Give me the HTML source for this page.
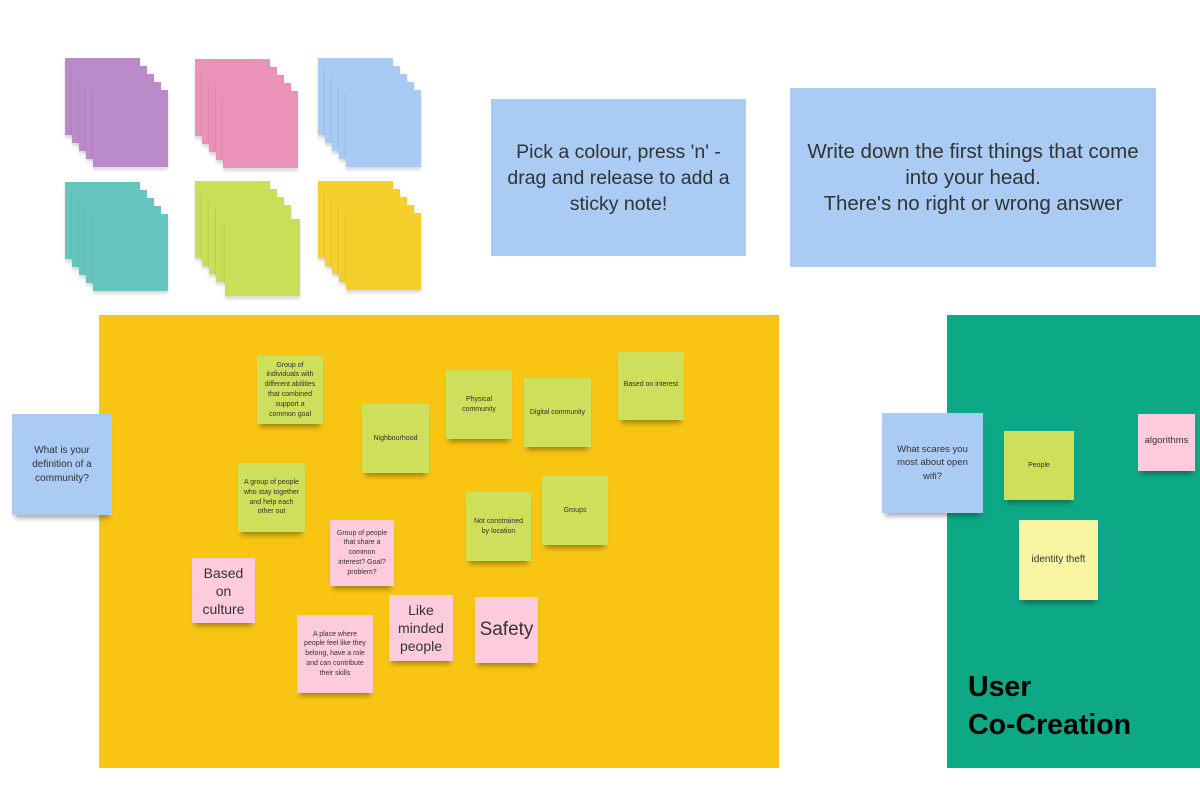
<!DOCTYPE html>
<html><head><meta charset="utf-8"><style>
body{margin:0;width:1200px;height:800px;background:#fff;position:relative;overflow:hidden;font-family:"Liberation Sans",sans-serif;}
.a{position:absolute;}
.n{position:absolute;display:flex;align-items:center;justify-content:center;text-align:center;color:#333;box-shadow:0 6px 5px -3px rgba(0,0,0,0.35);box-sizing:border-box;padding:3px 7px;line-height:1.4;}
.g{background:#cddf5b;font-size:7px;}
.p{background:#fdcbdc;}
.b{background:#a9cbf4;}
.s{position:absolute;width:75px;height:77px;box-shadow:0 3px 3px rgba(0,0,0,0.15);}
</style></head><body>
<div class="a" style="left:65px;top:58px">
<div class="s" style="left:0;top:0;background:#bb8ac8"></div><div class="s" style="left:7px;top:8px;background:#bb8ac8"></div><div class="s" style="left:14px;top:16px;background:#bb8ac8"></div><div class="s" style="left:21px;top:24px;background:#bb8ac8"></div><div class="s" style="left:28px;top:32px;background:#bb8ac8"></div></div>
<div class="a" style="left:195px;top:59px">
<div class="s" style="left:0;top:0;background:#ea93b9"></div><div class="s" style="left:7px;top:8px;background:#ea93b9"></div><div class="s" style="left:14px;top:16px;background:#ea93b9"></div><div class="s" style="left:21px;top:24px;background:#ea93b9"></div><div class="s" style="left:28px;top:32px;background:#ea93b9"></div></div>
<div class="a" style="left:318px;top:58px">
<div class="s" style="left:0;top:0;background:#a7cbf4"></div><div class="s" style="left:7px;top:8px;background:#a7cbf4"></div><div class="s" style="left:14px;top:16px;background:#a7cbf4"></div><div class="s" style="left:21px;top:24px;background:#a7cbf4"></div><div class="s" style="left:28px;top:32px;background:#a7cbf4"></div></div>
<div class="a" style="left:65px;top:182px">
<div class="s" style="left:0;top:0;background:#67c5bf"></div><div class="s" style="left:7px;top:8px;background:#67c5bf"></div><div class="s" style="left:14px;top:16px;background:#67c5bf"></div><div class="s" style="left:21px;top:24px;background:#67c5bf"></div><div class="s" style="left:28px;top:32px;background:#67c5bf"></div></div>
<div class="a" style="left:195px;top:181px">
<div class="s" style="left:0;top:0;background:#cade5a"></div><div class="s" style="left:7px;top:8px;background:#cade5a"></div><div class="s" style="left:14px;top:16px;background:#cade5a"></div><div class="s" style="left:21px;top:24px;background:#cade5a"></div><div class="s" style="left:30px;top:38px;background:#cade5a"></div></div>
<div class="a" style="left:318px;top:181px">
<div class="s" style="left:0;top:0;background:#f5cf2c"></div><div class="s" style="left:7px;top:8px;background:#f5cf2c"></div><div class="s" style="left:14px;top:16px;background:#f5cf2c"></div><div class="s" style="left:21px;top:24px;background:#f5cf2c"></div><div class="s" style="left:28px;top:32px;background:#f5cf2c"></div></div>

<div class="a" style="left:491px;top:99px;width:255px;height:157px;background:#a9cbf4;display:flex;align-items:center;justify-content:center;text-align:center;font-size:19.5px;line-height:26px;color:#333;">Pick a colour, press 'n' -<br>drag and release to add a<br>sticky note!</div>
<div class="a" style="left:790px;top:88px;width:366px;height:179px;background:#a9cbf4;display:flex;align-items:center;justify-content:center;text-align:center;font-size:20.5px;line-height:26px;color:#333;">Write down the first things that come<br>into your head.<br>There's no right or wrong answer</div>

<div class="a" style="left:99px;top:315px;width:680px;height:453px;background:#f8c512"></div>
<div class="a" style="left:947px;top:315px;width:253px;height:453px;background:#0da886"></div>
<div class="a" style="left:968px;top:668px;font-size:28.5px;font-weight:bold;line-height:38px;color:#000;">User<br>Co-Creation</div>

<div class="n b" style="left:12px;top:414px;width:100px;height:101px;font-size:10px;padding:3px 14px;">What is your definition of a community?</div>

<div class="n g" style="left:257px;top:356px;width:66px;height:68px;">Group of individuals with different abilities that combined support a common goal</div>
<div class="n g" style="left:362px;top:404px;width:67px;height:69px;">Nighbourhood</div>
<div class="n g" style="left:446px;top:370px;width:66px;height:69px;padding:3px 12px;">Physical community</div>
<div class="n g" style="left:524px;top:378px;width:67px;height:69px;padding:3px 0;white-space:nowrap;">Digital community</div>
<div class="n g" style="left:618px;top:352px;width:66px;height:68px;align-items:flex-start;padding:28px 0 0;white-space:nowrap;">Based on interest</div>
<div class="n g" style="left:238px;top:463px;width:67px;height:69px;padding:3px 5px;">A group of people who stay together and help each other out</div>
<div class="n p" style="left:330px;top:520px;width:64px;height:66px;font-size:7px;padding:3px 6px;">Group of people that share a common interest? Goal? problem?</div>
<div class="n g" style="left:466px;top:492px;width:65px;height:69px;padding:3px 5px;">Not constrained by location</div>
<div class="n g" style="left:542px;top:476px;width:66px;height:69px;">Groups</div>
<div class="n p" style="left:192px;top:558px;width:63px;height:65px;font-size:14px;line-height:18px;">Based<br>on<br>culture</div>
<div class="n p" style="left:297px;top:615px;width:76px;height:78px;font-size:7px;padding:3px 7px;">A place where people feel like they belong, have a role and can contribute their skills</div>
<div class="n p" style="left:389px;top:595px;width:64px;height:66px;font-size:14px;line-height:18px;">Like<br>minded<br>people</div>
<div class="n p" style="left:475px;top:597px;width:63px;height:66px;font-size:19px;">Safety</div>

<div class="n b" style="left:882px;top:413px;width:101px;height:100px;font-size:9.5px;padding:3px 10px;">What scares you most about open wifi?</div>
<div class="n g" style="left:1004px;top:431px;width:70px;height:69px;">People</div>
<div class="n p" style="left:1138px;top:414px;width:57px;height:57px;font-size:9.5px;align-items:flex-start;padding-top:20px;">algorithms</div>
<div class="n" style="left:1019px;top:520px;width:79px;height:80px;background:#faf5a2;font-size:10px;">identity theft</div>
</body></html>
